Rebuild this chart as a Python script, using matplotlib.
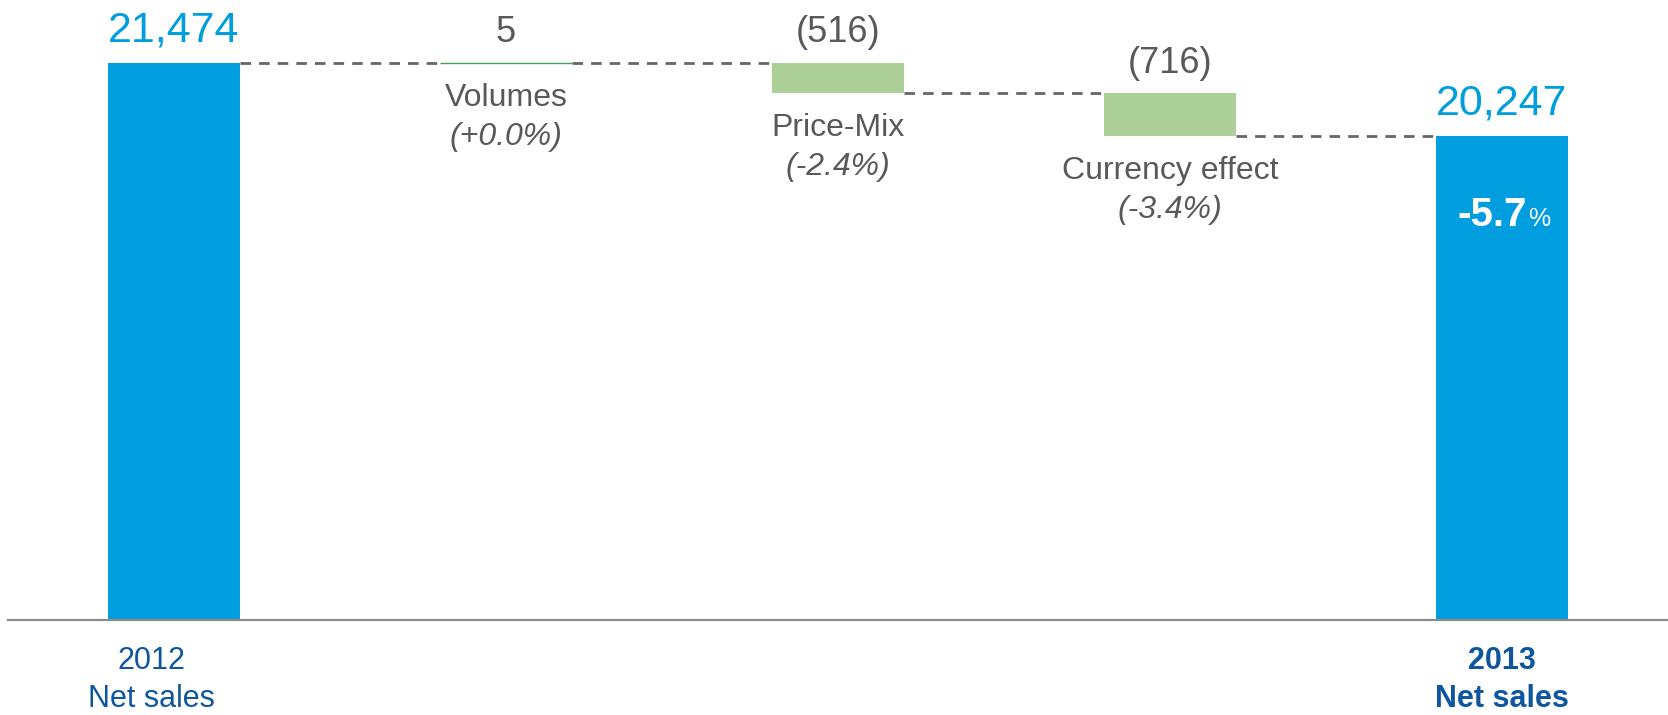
import matplotlib.pyplot as plt

plt.rcParams['font.family'] = ['Liberation Sans', 'DejaVu Sans']

# data
steps = ['2012\nNet sales', 'Volumes', 'Price-Mix', 'Currency effect', '2013\nNet sales']
start_value = 21474
changes = [5, -516, -716]
end_value = 20247
change_labels = ['5', '(516)', '(716)']
change_pct = ['(+0.0%)', '(-2.4%)', '(-3.4%)']
total_pct = '-5.7'

blue = '#009EDF'
green = '#ABCF96'
gray_txt = '#595959'
navy = '#0E56A0'

fig = plt.figure(figsize=(16.68, 7.15), dpi=100)
ax = fig.add_axes([8 / 1668, 95 / 715, 1 - 8 / 1668, 620 / 715])
ax.set_xlim(-0.5, 4.5)
ax.set_ylim(12111, 22533)

w = 0.4

# start and end bars
ax.bar(0, start_value, width=w, color=blue)
ax.bar(4, end_value, width=w, color=blue)

# floating bars
levels = [start_value]
for i, c in enumerate(changes):
    prev = levels[-1]
    new = prev + c
    levels.append(new)
    x = i + 1
    edge = '#3AA655' if abs(c) < 50 else 'none'
    ax.bar(x, abs(c), bottom=min(prev, new), width=w, color=green,
           edgecolor=edge, linewidth=1)
    top = max(prev, new)
    bot = min(prev, new)
    ax.annotate(change_labels[i], (x, top), xytext=(0, 9), textcoords='offset points',
                ha='center', va='bottom', fontsize=26, color=gray_txt)
    ax.annotate(steps[x], (x, bot), xytext=(0, -25), textcoords='offset points',
                ha='center', va='center', fontsize=23, color=gray_txt)
    ax.annotate(change_pct[i], (x, bot), xytext=(0, -53), textcoords='offset points',
                ha='center', va='center', fontsize=23, color=gray_txt, style='italic')

# connectors
for i, lvl in enumerate(levels):
    ax.plot([i + w / 2, i + 1 - w / 2], [lvl, lvl], color='#666666', lw=2,
            dashes=(3.8, 2.9), zorder=1)

# totals
ax.annotate(f'{start_value:,}', (0, start_value), xytext=(0, 9), textcoords='offset points',
            ha='center', va='bottom', fontsize=31, color=blue)
ax.annotate(f'{end_value:,}', (4, end_value), xytext=(0, 9), textcoords='offset points',
            ha='center', va='bottom', fontsize=31, color=blue)
ax.annotate(total_pct, (4, end_value), xytext=(18, -65), textcoords='offset points',
            ha='right', va='baseline', fontsize=29, color='white', weight='bold')
ax.annotate('%', (4, end_value), xytext=(19, -65), textcoords='offset points',
            ha='left', va='baseline', fontsize=18, color='white')

# bottom labels
ax.annotate('2012', (0, 0), xycoords=('data', 'axes fraction'), xytext=(-16, -29.5),
            textcoords='offset points', ha='center', va='center', fontsize=22, color=navy)
ax.annotate('Net sales', (0, 0), xycoords=('data', 'axes fraction'), xytext=(-16, -57),
            textcoords='offset points', ha='center', va='center', fontsize=22, color=navy)
ax.annotate('2013', (4, 0), xycoords=('data', 'axes fraction'), xytext=(0, -29.5),
            textcoords='offset points', ha='center', va='center', fontsize=22, color=navy,
            weight='bold')
ax.annotate('Net sales', (4, 0), xycoords=('data', 'axes fraction'), xytext=(0, -57),
            textcoords='offset points', ha='center', va='center', fontsize=22, color=navy,
            weight='bold')

for s in ['top', 'right', 'left']:
    ax.spines[s].set_visible(False)
ax.spines['bottom'].set_color('#8C8C8C')
ax.spines['bottom'].set_linewidth(1.6)
ax.set_xticks([])
ax.set_yticks([])

fig.savefig('out.png', dpi=100)
